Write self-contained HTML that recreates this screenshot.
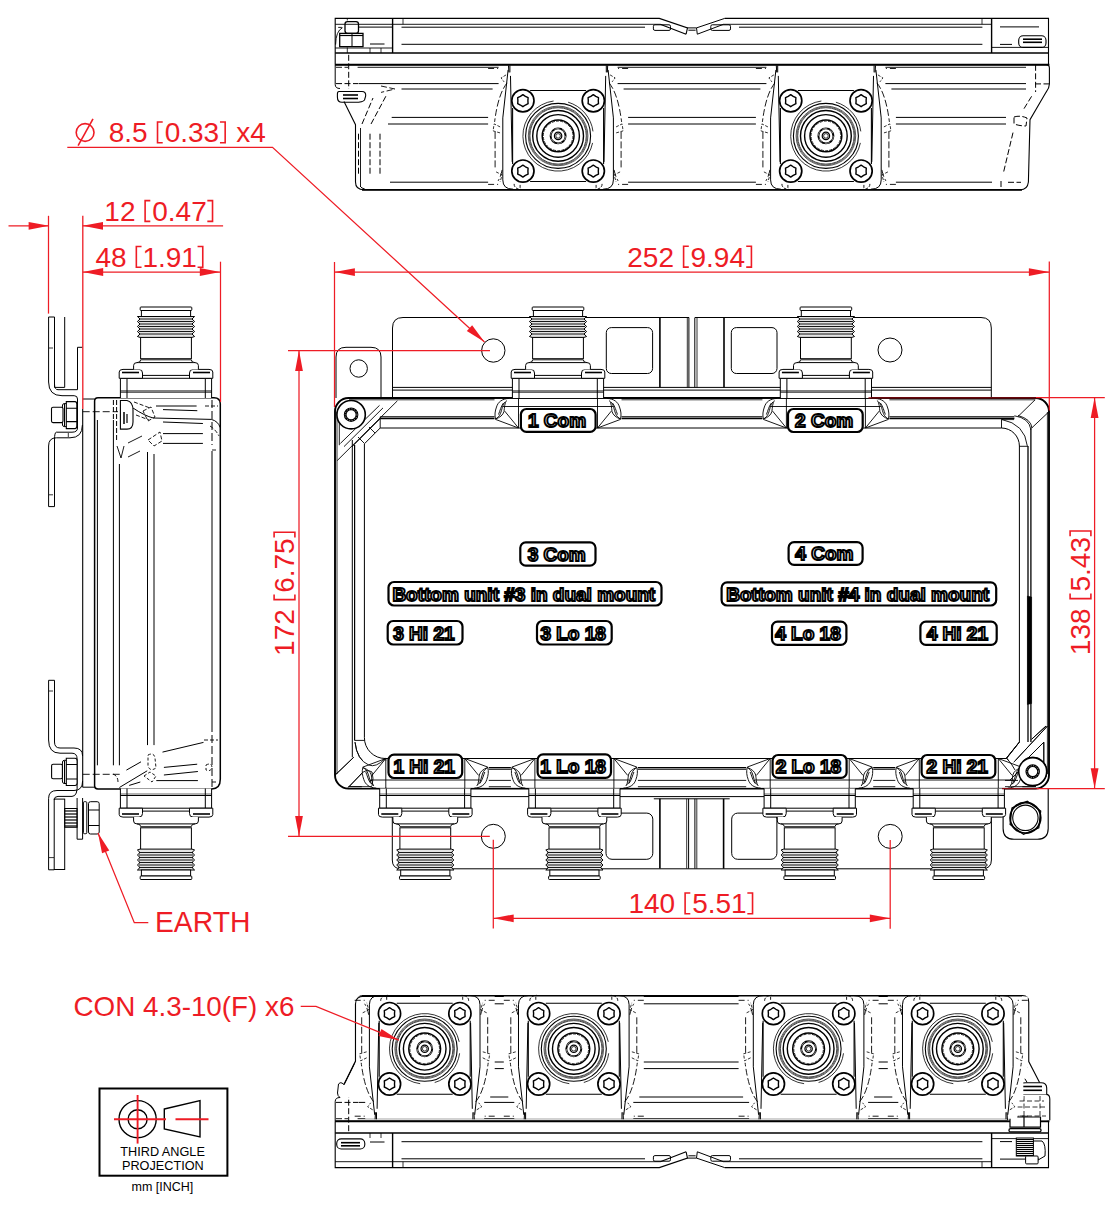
<!DOCTYPE html>
<html><head><meta charset="utf-8"><style>
html,body{margin:0;padding:0;background:#fff;}
svg{display:block;}
text{font-family:"Liberation Sans",sans-serif;}
</style></head><body>
<svg width="1116" height="1216" viewBox="0 0 1116 1216" font-family="Liberation Sans, sans-serif">
<defs><g id="conU" fill="#fff" stroke="#000" stroke-width="1">
<path d="M-45.6 0 V-19.7 H45.6 V0" />
<line x1="-39" y1="-19.7" x2="-39" y2="0"/><line x1="39.3" y1="-19.7" x2="39.3" y2="0"/>
<line x1="-45.6" y1="-7" x2="45.6" y2="-7"/>
<line x1="-45.6" y1="-5.5" x2="45.6" y2="-5.5" stroke-width="0.6"/>
<path d="M-46.8 -19.7 V-26 Q-46.8 -28.6 -43 -28.6 H-27 Q-23.5 -28.6 -23.5 -25 V-19.7 Z"/>
<path d="M46.8 -19.7 V-26 Q46.8 -28.6 43 -28.6 H27 Q23.5 -28.6 23.5 -25 V-19.7 Z"/>
<line x1="-44" y1="-25.5" x2="-27" y2="-25.5" stroke-width="1.6"/><line x1="27" y1="-25.5" x2="44" y2="-25.5" stroke-width="1.6"/>
<line x1="-23.5" y1="-22.6" x2="23.5" y2="-22.6"/>
<path d="M-32.4 -28.6 V-32.5 Q-32.4 -35.4 -29 -35.4 H29 Q32.4 -35.4 32.4 -32.5 V-28.6"/>
<path d="M-29 -35.4 Q-25.4 -35.4 -25.4 -38 M29 -35.4 Q25.4 -35.4 25.4 -38" />
<line x1="-25.4" y1="-38.2" x2="25.4" y2="-38.2" stroke-width="0.9"/>
<rect x="-25.4" y="-61" width="50.8" height="21.7"/>
<path fill="#e4e4e4" d="M-28.6 -81.5 L-26 -79 L-28.6 -76.5 L-26 -74 L-28.6 -71.5 L-26 -69 L-28.6 -66.5 L-26 -64 L-28.6 -61.5 L-26 -60.6 H26 L28.6 -61.5 L26 -64 L28.6 -66.5 L26 -69 L28.6 -71.5 L26 -74 L28.6 -76.5 L26 -79 L28.6 -81.5 Z"/>
<g stroke-width="0.9" fill="none">
<line x1="-27" y1="-79" x2="27" y2="-79"/><line x1="-27" y1="-76.5" x2="27" y2="-76.5"/>
<line x1="-27" y1="-74" x2="27" y2="-74"/><line x1="-27" y1="-71.5" x2="27" y2="-71.5"/>
<line x1="-27" y1="-69" x2="27" y2="-69"/><line x1="-27" y1="-66.5" x2="27" y2="-66.5"/>
<line x1="-27" y1="-64" x2="27" y2="-64"/>
</g>
<rect x="-24.6" y="-87.5" width="49.2" height="6"/>
<rect x="-25.8" y="-91" width="51.6" height="3.5" rx="0.8"/>
</g>
<g id="junc" fill="none" stroke="#000" stroke-width="0.9">
<rect x="-63.5" y="0.95" width="127" height="27" fill="#fff" stroke="none"/>
<line x1="-39.5" y1="-0.5" x2="-39.5" y2="30"/><line x1="39.5" y1="-0.5" x2="39.5" y2="30"/>
<line x1="-55" y1="8.5" x2="55" y2="8.5"/>
<path d="M49 0.4 C56 0.8 60 4 61.5 9 C63 13 63.5 17 62.5 21 M51.5 2.5 C53.5 5 53.5 10 54 13.5 C55 17 58 19.5 62.5 21 M53 4 C55.5 6 56 12 57.5 15.5 C58.5 18 60.5 20 62.5 21 M54.5 5 C57 8 58 13 59.5 16.5 M53.3 13.1 L39.5 30 L62.5 21.4"/>
<path d="M -49 0.4 C -56 0.8 -60 4 -61.5 9 C -63 13 -63.5 17 -62.5 21 M -51.5 2.5 C -53.5 5 -53.5 10 -54 13.5 C -55 17 -58 19.5 -62.5 21 M -53 4 C -55.5 6 -56 12 -57.5 15.5 C -58.5 18 -60.5 20 -62.5 21 M -54.5 5 C -57 8 -58 13 -59.5 16.5 M -53.3 13.1 L -39.5 30 L -62.5 21.4"/>
</g>
<g id="face" fill="none" stroke="#000">
<line x1="-28" y1="-45.4" x2="28" y2="-45.4" stroke-width="1.1"/>
<line x1="-28" y1="45.6" x2="28" y2="45.6" stroke-width="1.1"/>
<line x1="-45.5" y1="-28" x2="-45.5" y2="28" stroke-width="1.1"/>
<line x1="45.5" y1="-28" x2="45.5" y2="28" stroke-width="1.1"/>
<path d="M -4.5 -34.9 A35.2 35.2 0 1 0 34.5 7 M34.9 -4.5 A35.2 35.2 0 0 0 10 -33.7" stroke-width="0.8"/>
<circle r="32.5" stroke-width="1.1"/>
<circle r="29.8" stroke-width="0.9" stroke="#444"/>
<circle r="29" stroke-width="0.9" stroke="#555"/>
<circle r="28.2" stroke-width="0.9" stroke="#333"/>
<circle r="25.4" stroke-width="1.4"/>
<circle r="21.3" stroke-width="1.4"/>
<circle r="15.9" stroke-width="1.5"/>
<circle r="14.8" stroke-width="0.8" stroke-dasharray="3 1.2"/>
<circle r="7.5" stroke-width="1.9"/>
<circle r="7.5" stroke-width="0.5" stroke="#fff" stroke-dasharray="5 2.85"/>
<circle r="3.7" stroke-width="1.2"/>
<circle r="2.3" stroke-width="0.8"/>
<circle cx="-35.2" cy="-35.2" r="11.1" fill="#fff" stroke-width="1.7"/><polygon transform="translate(-35.2 -35.2)" points="5.20,3.00 2.50,4.33 0.00,6.00 -2.50,4.33 -5.20,3.00 -5.00,0.00 -5.20,-3.00 -2.50,-4.33 -0.00,-6.00 2.50,-4.33 5.20,-3.00 5.00,-0.00" stroke-width="1.4" stroke-linejoin="round"/><circle cx="-35.2" cy="35.2" r="11.1" fill="#fff" stroke-width="1.7"/><polygon transform="translate(-35.2 35.2)" points="5.20,3.00 2.50,4.33 0.00,6.00 -2.50,4.33 -5.20,3.00 -5.00,0.00 -5.20,-3.00 -2.50,-4.33 -0.00,-6.00 2.50,-4.33 5.20,-3.00 5.00,-0.00" stroke-width="1.4" stroke-linejoin="round"/><circle cx="35.2" cy="-35.2" r="11.1" fill="#fff" stroke-width="1.7"/><polygon transform="translate(35.2 -35.2)" points="5.20,3.00 2.50,4.33 0.00,6.00 -2.50,4.33 -5.20,3.00 -5.00,0.00 -5.20,-3.00 -2.50,-4.33 -0.00,-6.00 2.50,-4.33 5.20,-3.00 5.00,-0.00" stroke-width="1.4" stroke-linejoin="round"/><circle cx="35.2" cy="35.2" r="11.1" fill="#fff" stroke-width="1.7"/><polygon transform="translate(35.2 35.2)" points="5.20,3.00 2.50,4.33 0.00,6.00 -2.50,4.33 -5.20,3.00 -5.00,0.00 -5.20,-3.00 -2.50,-4.33 -0.00,-6.00 2.50,-4.33 5.20,-3.00 5.00,-0.00" stroke-width="1.4" stroke-linejoin="round"/>
</g></defs>
<rect width="1116" height="1216" fill="#fff"/>
<g fill="none" stroke="#000" stroke-width="1">
<path d="M335.2 64.8 V18.4 H659.3 L687.5 27.9 L686.1 34.2 M660.2 24.2 L686.1 34.2 M724.7 18.4 H1048.5 V64.8"  stroke-width="1.1" fill="none" />
<path d="M724.7 18.4 L696.5 27.9 L697.3 34.2 L723.8 24.2 M687.5 27.9 H696.5 M688.4 30.2 H695.6"   fill="none" />
<line x1="335.2" y1="24.3" x2="660.2" y2="24.3"  stroke-width="0.9" />
<line x1="723.8" y1="24.3" x2="991.6" y2="24.3"  stroke-width="0.9" />
<line x1="401.5" y1="27.2" x2="645" y2="27.2"   />
<line x1="739" y1="27.2" x2="982.4" y2="27.2"   />
<line x1="401.5" y1="44.3" x2="982.4" y2="44.3"   />
<line x1="335.2" y1="48" x2="392.6" y2="48"  stroke-width="0.9" />
<line x1="991.6" y1="47.4" x2="1048.5" y2="47.4"  stroke-width="0.9" />
<line x1="335.2" y1="53" x2="1048.5" y2="53"  stroke-width="1.4" />
<line x1="392.6" y1="18.4" x2="392.6" y2="53"  stroke-width="1.4" />
<line x1="991.6" y1="18.4" x2="991.6" y2="53"  stroke-width="1.4" />
<line x1="403" y1="18.4" x2="403" y2="24.3"  stroke-width="0.8" />
<line x1="982" y1="18.4" x2="982" y2="24.3"  stroke-width="0.8" />
<rect x="653.4" y="24.8" width="17.1" height="5.6" rx="1.5"   fill="none" />
<rect x="710.8" y="24.8" width="19.7" height="5.6" rx="1.5"   fill="none" />
<line x1="370" y1="44" x2="384.5" y2="44"   />
<line x1="370" y1="48" x2="370" y2="53"  stroke-width="0.8" />
<line x1="381" y1="48" x2="381" y2="53"  stroke-width="0.8" />
<line x1="1000" y1="26.9" x2="1039" y2="26.9"   />
<line x1="1000" y1="44.4" x2="1012" y2="44.4"   />
<rect x="345" y="21.6" width="13.5" height="11.7" rx="2.5"  stroke-width="1.3" fill="none" />
<path d="M339.7 33.3 H363 V46.7 H339.7 Z"  stroke-width="1.3" fill="none" />
<line x1="352" y1="33.3" x2="352" y2="46.7"   />
<path d="M342.5 27.7 Q335.8 31 335.6 44.6 M338.2 27.4 H341.9"  stroke-width="0.9" fill="none" />
<line x1="358.9" y1="27.1" x2="392.6" y2="27.1"   />
<line x1="347.3" y1="47.4" x2="347.3" y2="53"  stroke-width="0.8" />
<line x1="347.3" y1="18.4" x2="347.3" y2="20.5"  stroke-width="0.8" />
<line x1="340" y1="35.5" x2="363" y2="35.5"  stroke-width="1.2" />
<rect x="1018.7" y="35.8" width="27.3" height="11.6" rx="4.5"  stroke-width="1.1" fill="none" />
<line x1="1023" y1="39.2" x2="1042" y2="39.2"  stroke-width="1.6" />
<line x1="1023" y1="42.3" x2="1042" y2="42.3"  stroke-width="1.6" />
<path d="M335.2 64.8 H1046 Q1049.4 64.8 1049.4 68 V84 Q1049.4 88 1046 92.3 L1030 119.7 L1028.4 182 Q1027.5 189.8 1020.3 189.8 H364 Q355.5 189.8 355.5 182 V124.7 L344 101.4"  stroke-width="1.1" fill="none" />
<line x1="335.2" y1="64.8" x2="1049.4" y2="64.8"  stroke-width="1.9" />
<line x1="362" y1="189.8" x2="1022" y2="189.8"  stroke-width="1.7" />
<path d="M335.2 64.8 V84.4 Q335.2 88.5 340 88.5"   fill="none" />
<path d="M339 91.5 H362 Q366 91.5 365.7 96 L364.5 100 Q363 102.3 355 102.3 H342 Q337.4 102.3 337.4 97 V94 Q337.4 91.5 339 91.5 Z"  stroke-width="1.1" fill="none" />
<line x1="343" y1="95" x2="358" y2="95"  stroke-width="1.6" />
<line x1="343" y1="98.5" x2="358" y2="98.5"  stroke-width="1.6" />
<line x1="357.6" y1="67.3" x2="1026" y2="67.3"  stroke-width="0.9" />
<line x1="336" y1="67.3" x2="348" y2="67.3"  stroke-width="0.9" stroke-dasharray="6 2.5"/>
<line x1="358.5" y1="83.6" x2="1026" y2="83.6"   />
<line x1="336" y1="83.6" x2="358" y2="83.6"  stroke-width="1" stroke-dasharray="6 2.5"/>
<line x1="401.5" y1="89" x2="1026" y2="89"   />
<line x1="391.7" y1="117.4" x2="1006" y2="117.4"   />
<line x1="388" y1="124" x2="1006" y2="124"   />
<line x1="390" y1="182.2" x2="992" y2="182.2"   />
<path d="M381 86 L395 89 L381 92.4"  stroke-width="0.9" fill="none" stroke-dasharray="6 2.5"/>
<line x1="348.7" y1="54.8" x2="348.7" y2="89"  stroke-width="1" stroke-dasharray="6 2.5"/>
<path d="M358.5 133.7 V174 M370 133.7 V174 M380 133.7 V174 M362 124 L373 98 M371 124 L386 96 M360 186 Q362 189 367 189.5"  stroke-width="1" fill="none" stroke-dasharray="6 2.5"/>
<path d="M360.5 186 V128"  stroke-width="0.9" fill="none" />
<path d="M1035.6 64.8 V92 M1035 83.9 H1049 M1031.6 96.3 L1022.7 110.8 M1013 132.6 L1003.4 172.9 M1008 182.3 H1021 M1001 181 V189 M1014 117 Q1020 115 1027 118 L1026 126 Q1020 126 1014 124 Z"  stroke-width="1" fill="none" stroke-dasharray="6 2.5"/>
</g>
<g transform="translate(558.1 135.9) scale(1 1)" fill="none" stroke="#000" stroke-width="1">
<path d="M-59.5 -70 H59.5 V-50 H65.5 V-30 H70 V52.3 H-70 V-30 H-65.5 V-50 H-59.5 Z" fill="#fff" stroke="none"/>
<path d="M51.0 -53 Q60.0 -42 63.5 -14 M63.0 -4 V32 M56.0 34 Q57.0 40 60.0 45" stroke-dasharray="7 2.5" stroke-width="0.9"/>
<path d="M58.0 -9 L64.0 -12 L65.0 -5 L58.0 -3 M62.0 36 L56.0 39 L58.0 46 M52.0 -61 L57.0 -58 L54.0 -54" stroke-dasharray="3 1.5" stroke-width="0.8"/>
<path d="M70.0 -67.4 H60.0 M70.0 48.5 H60.0" stroke-dasharray="6 3" stroke-width="0.9"/>
<path d="M50.0 -66 L55.3 -18 V44 Q55.3 53.3 45.0 53.3" stroke-width="1"/>
<path d="M47.6 -60 L45.9 26 M48.2 -70.5 V-63.5 M49.6 -70.5 L49.2 -63.5" stroke-width="1"/>
<path d="M44.0 48 Q44.0 53 37.0 53.5 M38.0 49 V53" stroke-width="0.9" stroke-dasharray="3 1.5"/>
<path d="M-51.0 -53 Q-60.0 -42 -63.5 -14 M-63.0 -4 V32 M-56.0 34 Q-57.0 40 -60.0 45" stroke-dasharray="7 2.5" stroke-width="0.9"/>
<path d="M-58.0 -9 L-64.0 -12 L-65.0 -5 L-58.0 -3 M-62.0 36 L-56.0 39 L-58.0 46 M-52.0 -61 L-57.0 -58 L-54.0 -54" stroke-dasharray="3 1.5" stroke-width="0.8"/>
<path d="M-70.0 -67.4 H-60.0 M-70.0 48.5 H-60.0" stroke-dasharray="6 3" stroke-width="0.9"/>
<path d="M-50.0 -66 L-55.3 -18 V44 Q-55.3 53.3 -45.0 53.3" stroke-width="1"/>
<path d="M-47.6 -60 L-45.9 26 M-48.2 -70.5 V-63.5 M-49.6 -70.5 L-49.2 -63.5" stroke-width="1"/>
<path d="M-44.0 48 Q-44.0 53 -37.0 53.5 M-38.0 49 V53" stroke-width="0.9" stroke-dasharray="3 1.5"/>
<use href="#face"/>
</g>
<g transform="translate(825.9 135.9) scale(1 1)" fill="none" stroke="#000" stroke-width="1">
<path d="M-59.5 -70 H59.5 V-50 H65.5 V-30 H70 V52.3 H-70 V-30 H-65.5 V-50 H-59.5 Z" fill="#fff" stroke="none"/>
<path d="M51.0 -53 Q60.0 -42 63.5 -14 M63.0 -4 V32 M56.0 34 Q57.0 40 60.0 45" stroke-dasharray="7 2.5" stroke-width="0.9"/>
<path d="M58.0 -9 L64.0 -12 L65.0 -5 L58.0 -3 M62.0 36 L56.0 39 L58.0 46 M52.0 -61 L57.0 -58 L54.0 -54" stroke-dasharray="3 1.5" stroke-width="0.8"/>
<path d="M70.0 -67.4 H60.0 M70.0 48.5 H60.0" stroke-dasharray="6 3" stroke-width="0.9"/>
<path d="M50.0 -66 L55.3 -18 V44 Q55.3 53.3 45.0 53.3" stroke-width="1"/>
<path d="M47.6 -60 L45.9 26 M48.2 -70.5 V-63.5 M49.6 -70.5 L49.2 -63.5" stroke-width="1"/>
<path d="M44.0 48 Q44.0 53 37.0 53.5 M38.0 49 V53" stroke-width="0.9" stroke-dasharray="3 1.5"/>
<path d="M-51.0 -53 Q-60.0 -42 -63.5 -14 M-63.0 -4 V32 M-56.0 34 Q-57.0 40 -60.0 45" stroke-dasharray="7 2.5" stroke-width="0.9"/>
<path d="M-58.0 -9 L-64.0 -12 L-65.0 -5 L-58.0 -3 M-62.0 36 L-56.0 39 L-58.0 46 M-52.0 -61 L-57.0 -58 L-54.0 -54" stroke-dasharray="3 1.5" stroke-width="0.8"/>
<path d="M-70.0 -67.4 H-60.0 M-70.0 48.5 H-60.0" stroke-dasharray="6 3" stroke-width="0.9"/>
<path d="M-50.0 -66 L-55.3 -18 V44 Q-55.3 53.3 -45.0 53.3" stroke-width="1"/>
<path d="M-47.6 -60 L-45.9 26 M-48.2 -70.5 V-63.5 M-49.6 -70.5 L-49.2 -63.5" stroke-width="1"/>
<path d="M-44.0 48 Q-44.0 53 -37.0 53.5 M-38.0 49 V53" stroke-width="0.9" stroke-dasharray="3 1.5"/>
<use href="#face"/>
</g>
<g transform="translate(0 1186) scale(1 -1)">
<g fill="none" stroke="#000" stroke-width="1">
<path d="M335.2 64.8 V18.4 H659.3 L687.5 27.9 L686.1 34.2 M660.2 24.2 L686.1 34.2 M724.7 18.4 H1048.5 V64.8"  stroke-width="1.1" fill="none" />
<path d="M724.7 18.4 L696.5 27.9 L697.3 34.2 L723.8 24.2 M687.5 27.9 H696.5 M688.4 30.2 H695.6"   fill="none" />
<line x1="335.2" y1="24.3" x2="660.2" y2="24.3"  stroke-width="0.9" />
<line x1="723.8" y1="24.3" x2="991.6" y2="24.3"  stroke-width="0.9" />
<line x1="401.5" y1="27.2" x2="645" y2="27.2"   />
<line x1="739" y1="27.2" x2="982.4" y2="27.2"   />
<line x1="401.5" y1="44.3" x2="982.4" y2="44.3"   />
<line x1="991.6" y1="47.4" x2="1048.5" y2="47.4"  stroke-width="0.9" />
<line x1="335.2" y1="53" x2="1048.5" y2="53"  stroke-width="1.4" />
<line x1="392.6" y1="18.4" x2="392.6" y2="53"  stroke-width="1.4" />
<line x1="991.6" y1="18.4" x2="991.6" y2="53"  stroke-width="1.4" />
<line x1="403" y1="18.4" x2="403" y2="24.3"  stroke-width="0.8" />
<line x1="982" y1="18.4" x2="982" y2="24.3"  stroke-width="0.8" />
<rect x="653.4" y="24.8" width="17.1" height="5.6" rx="1.5"   fill="none" />
<rect x="710.8" y="24.8" width="19.7" height="5.6" rx="1.5"   fill="none" />
<line x1="370" y1="44" x2="384.5" y2="44"   />
<line x1="370" y1="48" x2="370" y2="53"  stroke-width="0.8" />
<line x1="381" y1="48" x2="381" y2="53"  stroke-width="0.8" />
<line x1="1000" y1="26.9" x2="1039" y2="26.9"   />
<line x1="1000" y1="44.4" x2="1012" y2="44.4"   />
<rect x="336.7" y="37" width="28.1" height="10.1" rx="4.5"  stroke-width="1.1" fill="none" />
<line x1="341" y1="40.2" x2="360" y2="40.2"  stroke-width="1.6" />
<line x1="341" y1="43.3" x2="360" y2="43.3"  stroke-width="1.6" />
<path d="M335.2 64.8 H1046 Q1049.4 64.8 1049.4 68 V84 M1039.7 103.3 L1028.75 124.4 V183.8 Q1028.75 190.4 1022.5 190.4 H364 Q355.5 190.4 355.5 182 V124.7 L344 101.4"  stroke-width="1.1" fill="none" />
<line x1="335.2" y1="64.8" x2="1049.4" y2="64.8"  stroke-width="1.9" />
<line x1="362" y1="189.8" x2="1022" y2="189.8"  stroke-width="1.7" />
<path d="M335.2 64.8 V84.4 Q335.2 88.5 340 88.5"   fill="none" />
<path d="M340 88.5 Q337.5 90 337.5 93 L338.5 102 Q340 104 342 103 L344 101.4"  stroke-width="1" fill="none" />
<line x1="357.6" y1="67.3" x2="1026" y2="67.3"  stroke-width="0.9" />
<line x1="336" y1="67.3" x2="348" y2="67.3"  stroke-width="0.9" stroke-dasharray="6 2.5"/>
<line x1="358.5" y1="83.6" x2="1026" y2="83.6"   />
<line x1="336" y1="83.6" x2="358" y2="83.6"  stroke-width="1" stroke-dasharray="6 2.5"/>
<line x1="401.5" y1="89" x2="1026" y2="89"   />
<line x1="391.7" y1="117.4" x2="1006" y2="117.4"   />
<line x1="388" y1="124" x2="1006" y2="124"   />
<line x1="390" y1="182.2" x2="992" y2="182.2"   />
<path d="M381 86 L395 89 L381 92.4"  stroke-width="0.9" fill="none" stroke-dasharray="6 2.5"/>
<line x1="348.7" y1="54.8" x2="348.7" y2="89"  stroke-width="1" stroke-dasharray="6 2.5"/>
<path d="M358.5 133.7 V174 M370 133.7 V174 M380 133.7 V174 M362 124 L373 98 M371 124 L386 96 M360 186 Q362 189 367 189.5"  stroke-width="1" fill="none" stroke-dasharray="6 2.5"/>
<path d="M360.5 186 V128"  stroke-width="0.9" fill="none" />
<path d="M1035.6 64.8 V92 M1035 83.9 H1049 M1031.6 96.3 L1022.7 110.8 M1013 132.6 L1003.4 172.9 M1008 182.3 H1021 M1001 181 V189 M1014 117 Q1020 115 1027 118 L1026 126 Q1020 126 1014 124 Z"  stroke-width="1" fill="none" stroke-dasharray="6 2.5"/>
</g>
</g>
<g fill="none" stroke="#000" stroke-width="1">
<path d="M1007.7 1120.2 V1100 Q1007.7 1094.4 1013 1094.4 H1046 Q1049.8 1094.4 1049.8 1099 V1120.2"  stroke-width="1.1" fill="#fff" />
<path d="M1018.6 1094.4 V1088 Q1018.6 1082.7 1026 1082.7 H1041 Q1046.7 1082.7 1046.7 1088 V1094.4"  stroke-width="1.1" fill="#fff" />
<line x1="1023" y1="1086.5" x2="1042" y2="1086.5"  stroke-width="1.6" />
<line x1="1023" y1="1090.3" x2="1042" y2="1090.3"  stroke-width="1.6" />
<path d="M1012 1101 H1044 M1010 1107 H1047 M1012 1116 H1046 M1024 1096 V1118 M1040 1096 V1118"  stroke-width="0.8" fill="none" stroke-dasharray="5 2.5"/>
<path d="M1010 1117 H1040.5 V1127.2 H1010 Z M1024 1117 V1127.2"  stroke-width="1.2" fill="#fff" />
<rect x="1009" y="1128.6" width="32" height="3.3" rx="1.5"  stroke-width="1.3" fill="#fff" />
<rect x="1016.3" y="1138" width="17.1" height="18" rx="0"  stroke-width="1" fill="#fff" />
<line x1="1016.3" y1="1139.5" x2="1033.4" y2="1139.5"  stroke-width="1.1" />
<line x1="1016.3" y1="1141.5" x2="1033.4" y2="1141.5"  stroke-width="1.1" />
<line x1="1016.3" y1="1143.5" x2="1033.4" y2="1143.5"  stroke-width="1.1" />
<line x1="1016.3" y1="1145.5" x2="1033.4" y2="1145.5"  stroke-width="1.1" />
<line x1="1016.3" y1="1147.5" x2="1033.4" y2="1147.5"  stroke-width="1.1" />
<line x1="1016.3" y1="1149.5" x2="1033.4" y2="1149.5"  stroke-width="1.1" />
<line x1="1016.3" y1="1151.5" x2="1033.4" y2="1151.5"  stroke-width="1.1" />
<line x1="1016.3" y1="1153.5" x2="1033.4" y2="1153.5"  stroke-width="1.1" />
<line x1="1016.3" y1="1155.5" x2="1033.4" y2="1155.5"  stroke-width="1.1" />
<rect x="1025.6" y="1156" width="12.5" height="7.9" rx="1"  stroke-width="1" fill="#fff" />
<path d="M1033.4 1141 H1042 Q1046 1144 1045 1156 L1038.1 1160"  stroke-width="1" fill="none" />
</g>
<g transform="translate(424.7 1048.8) scale(1 -1)" fill="none" stroke="#000" stroke-width="1">
<path d="M-59.5 -70 H59.5 V-50 H65.5 V-30 H70 V52.3 H-70 V-30 H-65.5 V-50 H-59.5 Z" fill="#fff" stroke="none"/>
<path d="M51.0 -53 Q60.0 -42 63.5 -14 M63.0 -4 V32 M56.0 34 Q57.0 40 60.0 45" stroke-dasharray="7 2.5" stroke-width="0.9"/>
<path d="M58.0 -9 L64.0 -12 L65.0 -5 L58.0 -3 M62.0 36 L56.0 39 L58.0 46 M52.0 -61 L57.0 -58 L54.0 -54" stroke-dasharray="3 1.5" stroke-width="0.8"/>
<path d="M70.0 -67.4 H60.0 M70.0 48.5 H60.0" stroke-dasharray="6 3" stroke-width="0.9"/>
<path d="M50.0 -66 L55.3 -18 V44 Q55.3 53.3 45.0 53.3" stroke-width="1"/>
<path d="M47.6 -60 L45.9 26 M48.2 -70.5 V-63.5 M49.6 -70.5 L49.2 -63.5" stroke-width="1"/>
<path d="M44.0 48 Q44.0 53 37.0 53.5 M38.0 49 V53" stroke-width="0.9" stroke-dasharray="3 1.5"/>
<path d="M-51.0 -53 Q-60.0 -42 -63.5 -14 M-63.0 -4 V32 M-56.0 34 Q-57.0 40 -60.0 45" stroke-dasharray="7 2.5" stroke-width="0.9"/>
<path d="M-58.0 -9 L-64.0 -12 L-65.0 -5 L-58.0 -3 M-62.0 36 L-56.0 39 L-58.0 46 M-52.0 -61 L-57.0 -58 L-54.0 -54" stroke-dasharray="3 1.5" stroke-width="0.8"/>
<path d="M-70.0 -67.4 H-60.0 M-70.0 48.5 H-60.0" stroke-dasharray="6 3" stroke-width="0.9"/>
<path d="M-50.0 -66 L-55.3 -18 V44 Q-55.3 53.3 -45.0 53.3" stroke-width="1"/>
<path d="M-47.6 -60 L-45.9 26 M-48.2 -70.5 V-63.5 M-49.6 -70.5 L-49.2 -63.5" stroke-width="1"/>
<path d="M-44.0 48 Q-44.0 53 -37.0 53.5 M-38.0 49 V53" stroke-width="0.9" stroke-dasharray="3 1.5"/>
<use href="#face"/>
</g>
<g transform="translate(573.8 1048.8) scale(1 -1)" fill="none" stroke="#000" stroke-width="1">
<path d="M-59.5 -70 H59.5 V-50 H65.5 V-30 H70 V52.3 H-70 V-30 H-65.5 V-50 H-59.5 Z" fill="#fff" stroke="none"/>
<path d="M51.0 -53 Q60.0 -42 63.5 -14 M63.0 -4 V32 M56.0 34 Q57.0 40 60.0 45" stroke-dasharray="7 2.5" stroke-width="0.9"/>
<path d="M58.0 -9 L64.0 -12 L65.0 -5 L58.0 -3 M62.0 36 L56.0 39 L58.0 46 M52.0 -61 L57.0 -58 L54.0 -54" stroke-dasharray="3 1.5" stroke-width="0.8"/>
<path d="M70.0 -67.4 H60.0 M70.0 48.5 H60.0" stroke-dasharray="6 3" stroke-width="0.9"/>
<path d="M50.0 -66 L55.3 -18 V44 Q55.3 53.3 45.0 53.3" stroke-width="1"/>
<path d="M47.6 -60 L45.9 26 M48.2 -70.5 V-63.5 M49.6 -70.5 L49.2 -63.5" stroke-width="1"/>
<path d="M44.0 48 Q44.0 53 37.0 53.5 M38.0 49 V53" stroke-width="0.9" stroke-dasharray="3 1.5"/>
<path d="M-51.0 -53 Q-60.0 -42 -63.5 -14 M-63.0 -4 V32 M-56.0 34 Q-57.0 40 -60.0 45" stroke-dasharray="7 2.5" stroke-width="0.9"/>
<path d="M-58.0 -9 L-64.0 -12 L-65.0 -5 L-58.0 -3 M-62.0 36 L-56.0 39 L-58.0 46 M-52.0 -61 L-57.0 -58 L-54.0 -54" stroke-dasharray="3 1.5" stroke-width="0.8"/>
<path d="M-70.0 -67.4 H-60.0 M-70.0 48.5 H-60.0" stroke-dasharray="6 3" stroke-width="0.9"/>
<path d="M-50.0 -66 L-55.3 -18 V44 Q-55.3 53.3 -45.0 53.3" stroke-width="1"/>
<path d="M-47.6 -60 L-45.9 26 M-48.2 -70.5 V-63.5 M-49.6 -70.5 L-49.2 -63.5" stroke-width="1"/>
<path d="M-44.0 48 Q-44.0 53 -37.0 53.5 M-38.0 49 V53" stroke-width="0.9" stroke-dasharray="3 1.5"/>
<use href="#face"/>
</g>
<g transform="translate(808.6 1048.8) scale(1 -1)" fill="none" stroke="#000" stroke-width="1">
<path d="M-59.5 -70 H59.5 V-50 H65.5 V-30 H70 V52.3 H-70 V-30 H-65.5 V-50 H-59.5 Z" fill="#fff" stroke="none"/>
<path d="M51.0 -53 Q60.0 -42 63.5 -14 M63.0 -4 V32 M56.0 34 Q57.0 40 60.0 45" stroke-dasharray="7 2.5" stroke-width="0.9"/>
<path d="M58.0 -9 L64.0 -12 L65.0 -5 L58.0 -3 M62.0 36 L56.0 39 L58.0 46 M52.0 -61 L57.0 -58 L54.0 -54" stroke-dasharray="3 1.5" stroke-width="0.8"/>
<path d="M70.0 -67.4 H60.0 M70.0 48.5 H60.0" stroke-dasharray="6 3" stroke-width="0.9"/>
<path d="M50.0 -66 L55.3 -18 V44 Q55.3 53.3 45.0 53.3" stroke-width="1"/>
<path d="M47.6 -60 L45.9 26 M48.2 -70.5 V-63.5 M49.6 -70.5 L49.2 -63.5" stroke-width="1"/>
<path d="M44.0 48 Q44.0 53 37.0 53.5 M38.0 49 V53" stroke-width="0.9" stroke-dasharray="3 1.5"/>
<path d="M-51.0 -53 Q-60.0 -42 -63.5 -14 M-63.0 -4 V32 M-56.0 34 Q-57.0 40 -60.0 45" stroke-dasharray="7 2.5" stroke-width="0.9"/>
<path d="M-58.0 -9 L-64.0 -12 L-65.0 -5 L-58.0 -3 M-62.0 36 L-56.0 39 L-58.0 46 M-52.0 -61 L-57.0 -58 L-54.0 -54" stroke-dasharray="3 1.5" stroke-width="0.8"/>
<path d="M-70.0 -67.4 H-60.0 M-70.0 48.5 H-60.0" stroke-dasharray="6 3" stroke-width="0.9"/>
<path d="M-50.0 -66 L-55.3 -18 V44 Q-55.3 53.3 -45.0 53.3" stroke-width="1"/>
<path d="M-47.6 -60 L-45.9 26 M-48.2 -70.5 V-63.5 M-49.6 -70.5 L-49.2 -63.5" stroke-width="1"/>
<path d="M-44.0 48 Q-44.0 53 -37.0 53.5 M-38.0 49 V53" stroke-width="0.9" stroke-dasharray="3 1.5"/>
<use href="#face"/>
</g>
<g transform="translate(957.8 1048.8) scale(1 -1)" fill="none" stroke="#000" stroke-width="1">
<path d="M-59.5 -70 H59.5 V-50 H65.5 V-30 H70 V52.3 H-70 V-30 H-65.5 V-50 H-59.5 Z" fill="#fff" stroke="none"/>
<path d="M51.0 -53 Q60.0 -42 63.5 -14 M63.0 -4 V32 M56.0 34 Q57.0 40 60.0 45" stroke-dasharray="7 2.5" stroke-width="0.9"/>
<path d="M58.0 -9 L64.0 -12 L65.0 -5 L58.0 -3 M62.0 36 L56.0 39 L58.0 46 M52.0 -61 L57.0 -58 L54.0 -54" stroke-dasharray="3 1.5" stroke-width="0.8"/>
<path d="M70.0 -67.4 H60.0 M70.0 48.5 H60.0" stroke-dasharray="6 3" stroke-width="0.9"/>
<path d="M50.0 -66 L55.3 -18 V44 Q55.3 53.3 45.0 53.3" stroke-width="1"/>
<path d="M47.6 -60 L45.9 26 M48.2 -70.5 V-63.5 M49.6 -70.5 L49.2 -63.5" stroke-width="1"/>
<path d="M44.0 48 Q44.0 53 37.0 53.5 M38.0 49 V53" stroke-width="0.9" stroke-dasharray="3 1.5"/>
<path d="M-51.0 -53 Q-60.0 -42 -63.5 -14 M-63.0 -4 V32 M-56.0 34 Q-57.0 40 -60.0 45" stroke-dasharray="7 2.5" stroke-width="0.9"/>
<path d="M-58.0 -9 L-64.0 -12 L-65.0 -5 L-58.0 -3 M-62.0 36 L-56.0 39 L-58.0 46 M-52.0 -61 L-57.0 -58 L-54.0 -54" stroke-dasharray="3 1.5" stroke-width="0.8"/>
<path d="M-70.0 -67.4 H-60.0 M-70.0 48.5 H-60.0" stroke-dasharray="6 3" stroke-width="0.9"/>
<path d="M-50.0 -66 L-55.3 -18 V44 Q-55.3 53.3 -45.0 53.3" stroke-width="1"/>
<path d="M-47.6 -60 L-45.9 26 M-48.2 -70.5 V-63.5 M-49.6 -70.5 L-49.2 -63.5" stroke-width="1"/>
<path d="M-44.0 48 Q-44.0 53 -37.0 53.5 M-38.0 49 V53" stroke-width="0.9" stroke-dasharray="3 1.5"/>
<use href="#face"/>
</g>
<path d="M364 996.2 Q355.5 996.2 355.5 1004 V1061.3 L344 1084.6" stroke="#000" stroke-width="1.1" fill="none" />
<line x1="362" y1="996.2" x2="420" y2="996.2" stroke="#000" stroke-width="1.7" />
<g fill="none" stroke="#000" stroke-width="1">
<path d="M392.5 398 V328 Q392.5 317.5 403 317.5 H689 M695 317.5 H981 Q991.3 317.5 991.3 328 V398"   fill="none" />
<line x1="392.5" y1="387.4" x2="991.3" y2="387.4"   />
<line x1="392.5" y1="390.1" x2="991.3" y2="390.1"   />
<rect x="606.3" y="327.6" width="46.3" height="45.9" rx="5"   fill="none" />
<rect x="731.3" y="327.6" width="45.7" height="45.9" rx="5"   fill="none" />
<line x1="659.9" y1="317.5" x2="659.9" y2="387.4"  stroke-width="1.6" />
<line x1="687.3" y1="317.5" x2="687.3" y2="387.4"  stroke-width="0.8" />
<line x1="688.9" y1="317.5" x2="688.9" y2="387.4"  stroke-width="1" />
<line x1="694.8" y1="317.5" x2="694.8" y2="387.4"  stroke-width="1" />
<line x1="697" y1="317.5" x2="697" y2="387.4"  stroke-width="0.8" />
<line x1="724" y1="317.5" x2="724" y2="387.4"  stroke-width="1.6" />
<circle cx="493.3" cy="350.5" r="11.7"   fill="none" />
<circle cx="890" cy="350" r="12"   fill="none" />
<path d="M336 398 V357 Q336 347.3 346 347.3 H371 Q381 347.3 381 357 V398"   fill="#fff" />
<circle cx="358.7" cy="368.5" r="8.7"   fill="none" />
<path d="M392.3 798 V860 Q392.3 868.8 401 868.8 H982 Q991.4 868.8 991.4 860 V798"   fill="none" />
<line x1="392.3" y1="796.6" x2="991.4" y2="796.6"   />
<line x1="653.8" y1="798.8" x2="729.7" y2="798.8"   />
<rect x="606" y="813.1" width="46.8" height="46.2" rx="6"   fill="none" />
<rect x="731.7" y="813.1" width="45.2" height="46.2" rx="6"   fill="none" />
<line x1="659.9" y1="798.8" x2="659.9" y2="868.6"  stroke-width="1.6" />
<line x1="686.7" y1="798.8" x2="686.7" y2="868.6"  stroke-width="0.8" />
<line x1="688.6" y1="798.8" x2="688.6" y2="868.6"  stroke-width="1" />
<line x1="694.9" y1="798.8" x2="694.9" y2="868.6"  stroke-width="1" />
<line x1="696.8" y1="798.8" x2="696.8" y2="868.6"  stroke-width="0.8" />
<line x1="723.6" y1="798.8" x2="723.6" y2="868.6"  stroke-width="1.6" />
<circle cx="493.3" cy="836.3" r="12"   fill="none" />
<circle cx="890.2" cy="836.4" r="12"   fill="none" />
<path d="M1003.1 789 V828.5 Q1003.1 839.3 1014 839.3 H1037.4 Q1048.2 839.3 1048.2 828.5 V789"  stroke-width="1.1" fill="#fff" />
<polygon points="1027.29,801.21 1040.71,811.14 1038.82,827.73 1023.51,834.39 1010.09,824.46 1011.98,807.87" fill="none" stroke="#000" stroke-width="1.2"/>
<circle cx="1025.4" cy="817.8" r="15.3"  stroke-width="1.8" fill="none" />
<circle cx="1025.4" cy="817.8" r="12.7"  stroke-width="1.1" fill="none" />
<rect x="335" y="398" width="714" height="390.6" rx="13.5"  stroke-width="1.9" fill="#fff" />
<line x1="349" y1="399.8" x2="1035.2" y2="399.8"  stroke-width="0.8" />
<line x1="348.6" y1="786.6" x2="1036" y2="786.6"  stroke-width="0.8" />
<line x1="337" y1="412" x2="337" y2="774"  stroke-width="0.8" />
<line x1="1047.4" y1="412" x2="1047.4" y2="774"  stroke-width="0.8" />
<line x1="380.2" y1="416.9" x2="1014.4" y2="416.9"  stroke-width="1.1" />
<line x1="380.2" y1="418.6" x2="1014.4" y2="418.6"  stroke-width="1.1" />
<line x1="1001.5" y1="419.6" x2="1014" y2="419.6"  stroke-width="0.8" />
<line x1="370" y1="767.6" x2="1004" y2="767.6"  stroke-width="1.1" />
<line x1="370" y1="769.3" x2="1004" y2="769.3"  stroke-width="1.1" />
<line x1="369.8" y1="780.4" x2="1018" y2="780.4"  stroke-width="0.9" />
<line x1="352.3" y1="440" x2="352.3" y2="757.3"  stroke-width="1" />
<line x1="354.6" y1="445" x2="354.6" y2="740.4"  stroke-width="1.2" />
<line x1="1028" y1="446" x2="1028" y2="742"  stroke-width="1.3" />
<line x1="1030.9" y1="429" x2="1030.9" y2="742"  stroke-width="1.3" />
<path d="M1027.4 596 L1031.6 597 V703.5 L1027.4 704.5 Z"  stroke-width="0.5" fill="#000" />
<path d="M380.2 428 H1001.5 A18 18 0 0 1 1019.4 446 V742 L1006.5 758.5 H385.2 A20.8 20.8 0 0 1 364.4 737.7 V443.8 Z"  stroke-width="1" fill="none" />
<path d="M397.4 400.8 L337.2 460.6 M379.5 405.4 L340.4 443.4 M383 407.9 L344 446.6 M380.2 418.7 L352.2 446.6 M380.2 416.9 V428 M339.3 421.5 V445.2 M358 437 L364 443 M369 427 L375 433"  stroke-width="0.9" fill="none" />
<circle cx="351.1" cy="414.7" r="14.2"  stroke-width="1.6" fill="#fff" />
<circle cx="351.1" cy="414.7" r="5.9"  stroke-width="2.8" fill="none" />
<circle cx="351.1" cy="414.7" r="5.9" stroke="#fff" stroke-width="0.6" fill="none" stroke-dasharray="1 1.5"/>
<path d="M335 775.2 L353.7 757.3 M348.3 787.4 L361.5 773.7 M354.7 740.4 H364.4 M355 742.2 Q357 760 368.7 765 Q376 768 385.2 758.5 M385.9 759.4 V788 M360 775 Q366 768 372 772 Q374 778 372 786"  stroke-width="0.9" fill="none" />
<path d="M1035.2 399.7 L1018 416.5 M1049.2 411.5 L1030.2 429.4 M1014.4 415.8 Q1029 418 1030.9 429.4 M1018 415.5 Q1031 419 1032 428 M1001.5 419.4 Q1025 424 1027.3 445.9 M1001.5 419.4 V428 M1019.4 446.3 H1028"  stroke-width="0.9" fill="none" />
<path d="M1047.4 726.1 L1013.7 762.3 M1043.8 742.2 L1027.3 758.7 M1046 726 L1031.6 739.3 M1043.8 742.2 V763.7 M1019.3 742.2 L1006.5 758 M1006.5 758 Q1012 764 1015 770 M1010 780 L1018 772"  stroke-width="0.9" fill="none" />
<circle cx="1032.7" cy="771.6" r="14"  stroke-width="1.6" fill="#fff" />
<circle cx="1032.7" cy="771.6" r="5.9"  stroke-width="2.8" fill="none" />
<circle cx="1032.7" cy="771.6" r="5.9" stroke="#fff" stroke-width="0.6" fill="none" stroke-dasharray="1 1.5"/>
</g>
<use href="#junc" transform="translate(558.0 398)"/>
<use href="#conU" transform="translate(558.0 398)"/>
<use href="#junc" transform="translate(825.9 398)"/>
<use href="#conU" transform="translate(825.9 398)"/>
<use href="#junc" transform="translate(425.3 788.5) scale(1 -1)"/>
<use href="#conU" transform="translate(425.3 788.5) scale(1 -1)"/>
<use href="#junc" transform="translate(574.4 788.5) scale(1 -1)"/>
<use href="#conU" transform="translate(574.4 788.5) scale(1 -1)"/>
<use href="#junc" transform="translate(809.7 788.5) scale(1 -1)"/>
<use href="#conU" transform="translate(809.7 788.5) scale(1 -1)"/>
<use href="#junc" transform="translate(958.8 788.5) scale(1 -1)"/>
<use href="#conU" transform="translate(958.8 788.5) scale(1 -1)"/>
<g fill="none" stroke="#000" stroke-width="1">
<path d="M335 775.2 L353.7 757.3 M348.3 787.4 L361.5 773.7 M355 742.2 Q357 760 368.7 765 Q376 768 385.2 758.5 M360 775 Q366 768 372 772 Q374 778 372 786"  stroke-width="0.9" fill="none" />
<line x1="369.8" y1="780.4" x2="372" y2="780.4"  stroke-width="0.9" />
<line x1="348.6" y1="786.6" x2="372" y2="786.6"  stroke-width="0.8" />
<path d="M1047.4 726.1 L1013.7 762.3 M1043.8 742.2 L1027.3 758.7 M1046 726 L1031.6 739.3 M1043.8 742.2 V763.7 M1019.3 742.2 L1006.5 758 M1006.5 758 Q1012 764 1015 770 M1010 780 L1018 772"  stroke-width="0.9" fill="none" />
<line x1="1005" y1="780.4" x2="1018" y2="780.4"  stroke-width="0.9" />
<line x1="1005" y1="786.6" x2="1036" y2="786.6"  stroke-width="0.8" />
<circle cx="1032.7" cy="771.6" r="14"  stroke-width="1.6" fill="#fff" />
<circle cx="1032.7" cy="771.6" r="5.9"  stroke-width="2.8" fill="none" />
<circle cx="1032.7" cy="771.6" r="5.9" stroke="#fff" stroke-width="0.6" fill="none" stroke-dasharray="1 1.5"/>
</g>
<rect x="520.9" y="409" width="74.70000000000005" height="22.899999999999977" rx="5.5" fill="#fff" stroke="#000" stroke-width="2.2"/>
<text x="557.05" y="427.29999999999995" font-size="19" font-weight="bold" text-anchor="middle" fill="#fff" stroke="#000" stroke-width="1.9">1 Com</text>
<rect x="788" y="409" width="74.70000000000005" height="23" rx="5.5" fill="#fff" stroke="#000" stroke-width="2.2"/>
<text x="824.15" y="427.4" font-size="19" font-weight="bold" text-anchor="middle" fill="#fff" stroke="#000" stroke-width="1.9">2 Com</text>
<rect x="520.3" y="542.3" width="75.20000000000005" height="23.40000000000009" rx="5.5" fill="#fff" stroke="#000" stroke-width="2.2"/>
<text x="556.6999999999999" y="561.1" font-size="19" font-weight="bold" text-anchor="middle" fill="#fff" stroke="#000" stroke-width="1.9">3 Com</text>
<rect x="788.6" y="542.2" width="74.0" height="22.59999999999991" rx="5.5" fill="#fff" stroke="#000" stroke-width="2.2"/>
<text x="824.4" y="560.1999999999999" font-size="19" font-weight="bold" text-anchor="middle" fill="#fff" stroke="#000" stroke-width="1.9">4 Com</text>
<rect x="388.5" y="582" width="273.0" height="23.5" rx="5.5" fill="#fff" stroke="#000" stroke-width="2.2"/>
<text x="523.8" y="600.9" font-size="19" font-weight="bold" text-anchor="middle" fill="#fff" stroke="#000" stroke-width="1.9">Bottom unit #3 in dual mount</text>
<rect x="721.6" y="582.4" width="274.6" height="23.100000000000023" rx="5.5" fill="#fff" stroke="#000" stroke-width="2.2"/>
<text x="857.7" y="600.9" font-size="19" font-weight="bold" text-anchor="middle" fill="#fff" stroke="#000" stroke-width="1.9">Bottom unit #4 in dual mount</text>
<rect x="387.7" y="621" width="74.80000000000001" height="23.5" rx="5.5" fill="#fff" stroke="#000" stroke-width="2.2"/>
<text x="423.90000000000003" y="639.9" font-size="19" font-weight="bold" text-anchor="middle" fill="#fff" stroke="#000" stroke-width="1.9">3 Hi 21</text>
<rect x="537" y="621" width="74.70000000000005" height="23.5" rx="5.5" fill="#fff" stroke="#000" stroke-width="2.2"/>
<text x="573.15" y="639.9" font-size="19" font-weight="bold" text-anchor="middle" fill="#fff" stroke="#000" stroke-width="1.9">3 Lo 18</text>
<rect x="772" y="621.7" width="74.39999999999998" height="23.09999999999991" rx="5.5" fill="#fff" stroke="#000" stroke-width="2.2"/>
<text x="808.0" y="640.1999999999999" font-size="19" font-weight="bold" text-anchor="middle" fill="#fff" stroke="#000" stroke-width="1.9">4 Lo 18</text>
<rect x="920.4" y="621.7" width="76.30000000000007" height="23.09999999999991" rx="5.5" fill="#fff" stroke="#000" stroke-width="2.2"/>
<text x="957.3499999999999" y="640.1999999999999" font-size="19" font-weight="bold" text-anchor="middle" fill="#fff" stroke="#000" stroke-width="1.9">4 Hi 21</text>
<rect x="388.5" y="754.6" width="73.69999999999999" height="23.399999999999977" rx="5.5" fill="#fff" stroke="#000" stroke-width="2.2"/>
<text x="424.15000000000003" y="773.4" font-size="19" font-weight="bold" text-anchor="middle" fill="#fff" stroke="#000" stroke-width="1.9">1 Hi 21</text>
<rect x="537.6" y="754.4" width="73.39999999999998" height="23.399999999999977" rx="5.5" fill="#fff" stroke="#000" stroke-width="2.2"/>
<text x="573.0999999999999" y="773.1999999999999" font-size="19" font-weight="bold" text-anchor="middle" fill="#fff" stroke="#000" stroke-width="1.9">1 Lo 18</text>
<rect x="772.6" y="755" width="74.0" height="22.899999999999977" rx="5.5" fill="#fff" stroke="#000" stroke-width="2.2"/>
<text x="808.4" y="773.3" font-size="19" font-weight="bold" text-anchor="middle" fill="#fff" stroke="#000" stroke-width="1.9">2 Lo 18</text>
<rect x="921.6" y="755" width="73.69999999999993" height="22.899999999999977" rx="5.5" fill="#fff" stroke="#000" stroke-width="2.2"/>
<text x="957.25" y="773.3" font-size="19" font-weight="bold" text-anchor="middle" fill="#fff" stroke="#000" stroke-width="1.9">2 Hi 21</text>
<g fill="none" stroke="#000" stroke-width="1">
<path d="M48.6 317 V382 Q48.6 395.7 62 395.7 H74.2 Q77.5 395.7 77.5 399 V428"   fill="none" />
<path d="M54.5 317 V387.4 H64.7 V317 M48.6 317 H54.5"   fill="none" />
<path d="M54.5 384 Q54.5 389.7 58 389.7 H77.5 M77.5 347.3 V389.7 M77.5 347.3 H82.4"   fill="none" />
<path d="M77.5 427.9 Q77.5 432.2 72 432.2 H56.4 Q54.5 432.2 54.5 440 V506.6 H48.6 V446 Q48.6 437.8 56.4 437.8 H70 Q82.4 437.8 82.4 425"   fill="none" />
<line x1="49" y1="348" x2="53" y2="348"  stroke-width="0.8" />
<line x1="49" y1="494.8" x2="53" y2="494.8"  stroke-width="0.8" />
<line x1="68.3" y1="433" x2="68.3" y2="437"  stroke-width="0.8" />
<path d="M66.3 401.6 H75 Q76.8 401.6 76.8 404 V426 Q76.8 428.6 75 428.6 H66.3 Z M66.3 408.2 H76.8 M66.3 421.6 H76.8"  stroke-width="1.1" fill="#fff" />
<path d="M66.3 403.6 H64 Q62.4 403.6 62.4 406 V424 Q62.4 426.6 64 426.6 H66.3 M64.5 404 V426"  stroke-width="1" fill="none" />
<rect x="51.5" y="407.2" width="11.5" height="15.4" rx="1.5"  stroke-width="1.1" fill="#fff" />
<path d="M48.6 680.3 V740 Q48.6 753.2 60 753.2 H72 Q77.1 753.2 77.1 759 V783"   fill="none" />
<path d="M54.5 680.3 V742 Q54.5 748 60 748 H74 Q82.6 748 82.6 756 M48.6 680.3 H54.5"   fill="none" />
<path d="M82.6 781 Q82.6 790.5 74 790.5 H57 Q48.6 790.5 48.6 798.4 V869.8 H54.2"   fill="none" />
<path d="M77.1 783 Q78 796.4 72 796.4 H58 Q54.2 796.4 54.2 800"   fill="none" />
<rect x="54.2" y="799.1" width="10.5" height="70.4" rx="0"   fill="none" />
<line x1="49" y1="691" x2="53" y2="691"  stroke-width="0.8" />
<line x1="49" y1="857.6" x2="54" y2="857.6"  stroke-width="0.8" />
<path d="M66.3 758.3 H75 Q77.1 758.3 77.1 761 V783 Q77.1 785.5 75 785.5 H66.3 Z M66.3 764.5 H77.1 M66.3 779 H77.1"  stroke-width="1.1" fill="#fff" />
<path d="M66.3 760.3 H64 Q62.4 760.3 62.4 763 V781 Q62.4 783.5 64 783.5 H66.3 M64.5 761 V783"  stroke-width="1" fill="none" />
<rect x="51.6" y="764.3" width="10.8" height="14.4" rx="1.5"  stroke-width="1.1" fill="#fff" />
<path d="M77.1 798 V839.2 H82.6 V798"   fill="none" />
<rect x="64.7" y="808.5" width="12.4" height="18.8" rx="0"   fill="none" />
<line x1="64.7" y1="811" x2="77.1" y2="811"  stroke-width="1.2" />
<line x1="64.7" y1="814" x2="77.1" y2="814"  stroke-width="1.2" />
<line x1="64.7" y1="817" x2="77.1" y2="817"  stroke-width="1.2" />
<line x1="64.7" y1="820" x2="77.1" y2="820"  stroke-width="1.2" />
<line x1="64.7" y1="823" x2="77.1" y2="823"  stroke-width="1.2" />
<line x1="64.7" y1="826" x2="77.1" y2="826"  stroke-width="1.2" />
<rect x="83.4" y="801.7" width="3.4" height="32" rx="1"   fill="none" />
<rect x="88.5" y="801.7" width="10.7" height="32.3" rx="2"   fill="none" />
<line x1="88.5" y1="810" x2="99.2" y2="810"   />
<line x1="88.5" y1="825.5" x2="99.2" y2="825.5"   />
<line x1="82.7" y1="409" x2="82.7" y2="787.2"  stroke-width="1.1" />
<line x1="82.7" y1="399" x2="94.6" y2="399"   />
<line x1="82.7" y1="787.2" x2="94.6" y2="787.2"   />
<line x1="82.7" y1="411.7" x2="118" y2="411.7"  stroke-width="0.9" stroke-dasharray="7 3"/>
<line x1="82.7" y1="774.3" x2="120" y2="774.3"  stroke-width="0.9" stroke-dasharray="7 3"/>
<path d="M94.6 786 V401 Q94.6 397.7 98 397.7 H214 Q220.3 397.7 220.3 404 V779 Q220.3 788.9 211.8 788.9 H97.9 Q94.6 788.9 94.6 786"  stroke-width="1.5" fill="none" />
<line x1="97.4" y1="420" x2="97.4" y2="765.3"   />
<line x1="113.4" y1="420" x2="113.4" y2="765.3"   />
<line x1="119.4" y1="464" x2="119.4" y2="765.3"   />
<line x1="113.4" y1="400" x2="113.4" y2="420"  stroke-width="1" stroke-dasharray="5 2"/>
<line x1="116.6" y1="400" x2="116.6" y2="440"  stroke-width="1" stroke-dasharray="5 2"/>
<line x1="147.5" y1="452" x2="147.5" y2="745.1"   />
<line x1="154" y1="454" x2="154" y2="745.1"   />
<line x1="212" y1="451" x2="212" y2="732"   />
<line x1="212" y1="400" x2="212" y2="445"  stroke-width="1" stroke-dasharray="8 3"/>
<line x1="212" y1="735" x2="212" y2="787"  stroke-width="1" stroke-dasharray="8 3"/>
<path d="M120.4 400.5 H127 Q133 402 133 410 V422 Q133 429.1 127 429.1 H120.4 Z"  stroke-width="1.1" fill="#fff" />
<line x1="124" y1="412" x2="124" y2="424"  stroke-width="1.5" />
<line x1="127" y1="414" x2="127" y2="423"  stroke-width="1.2" />
<path d="M133 408 Q145 416 153.3 418 L211.3 419.4 Q218 421 220.3 427.7"   fill="none" />
<line x1="156" y1="406" x2="196.6" y2="406"   />
<line x1="163" y1="409.6" x2="197.3" y2="410.7"   />
<line x1="163" y1="422" x2="202.9" y2="423.5"   />
<line x1="163" y1="433.6" x2="202.9" y2="433.6"   />
<line x1="163" y1="443.4" x2="202.9" y2="443.4"   />
<path d="M134 402 L150 408 M136 415 L149 420 M148 440 L160 432 L162 441 L154 446 Z M143 411 L151 407 L155 417 L148 421 Z"  stroke-width="0.9" fill="none" stroke-dasharray="4 2"/>
<path d="M128 443 L142 436 M128 457 L140 451 M117 446 L121 458 L124 446"  stroke-width="0.9" fill="none" />
<path d="M205 406 H218 M210 426 Q216 430 219 436 M212 450 H218"  stroke-width="0.9" fill="none" stroke-dasharray="4 2"/>
<path d="M119.4 787.5 L147.2 770.8"   fill="none" />
<line x1="162.5" y1="752.1" x2="203.5" y2="742.4"   />
<line x1="163.9" y1="767.4" x2="197.2" y2="764.2"   />
<line x1="163.9" y1="775" x2="197.9" y2="771.5"   />
<line x1="156.3" y1="780.6" x2="197.9" y2="780.6"   />
<line x1="126.4" y1="770.1" x2="141" y2="761.8"   />
<line x1="129.2" y1="785.4" x2="140.3" y2="782"   />
<path d="M148 755 Q154 752 155 758 L156 768 Q150 772 148 766 Z M144 776 L150 772 L156 776 L152 782 Z M206 765 Q212 762 212 768 Q210 772 206 770 Z"  stroke-width="0.9" fill="none" stroke-dasharray="3 2"/>
<path d="M204 740 H218 M113 774 Q118 776 118 782 M212 782 H218"  stroke-width="0.9" fill="none" stroke-dasharray="4 2"/>
</g>
<use href="#conU" transform="translate(166 398) scale(1 1)"/>
<use href="#conU" transform="translate(166 788.5) scale(1 -1)"/>
<g stroke="#ee1c25" stroke-width="1.25" fill="none">
<path d="M67.3 147.3 H272.5 L484.5 342"   fill="none" />
<line x1="8.5" y1="225.8" x2="49" y2="225.8"   />
<line x1="82.6" y1="225.8" x2="223.1" y2="225.8"   />
<line x1="48.5" y1="215.8" x2="48.5" y2="313.6"   />
<line x1="82.8" y1="215.8" x2="82.8" y2="409"  stroke-width="1.3" />
<line x1="82.8" y1="272" x2="220.2" y2="272"   />
<line x1="220.5" y1="261.7" x2="220.5" y2="402"   />
<line x1="334.5" y1="272.1" x2="1049.3" y2="272.1"   />
<line x1="334.5" y1="262" x2="334.5" y2="407"   />
<line x1="1049.3" y1="261.6" x2="1049.3" y2="410.5"   />
<line x1="288" y1="350.5" x2="490" y2="350.5"   />
<line x1="288" y1="836.3" x2="489.8" y2="836.3"   />
<line x1="299" y1="350.5" x2="299" y2="836.3"   />
<line x1="868.5" y1="397.8" x2="1036" y2="397.8" stroke="#8a0a10" stroke-width="1.3" />
<line x1="1036" y1="397.6" x2="1104.8" y2="397.6"   />
<line x1="1002" y1="788.7" x2="1036.6" y2="788.7" stroke="#8a0a10" stroke-width="1.3" />
<line x1="1036.6" y1="788.6" x2="1104.8" y2="788.6"   />
<line x1="1094.6" y1="397.6" x2="1094.6" y2="788.6"   />
<line x1="493.3" y1="839.8" x2="493.3" y2="928.5"   />
<line x1="890.2" y1="840" x2="890.2" y2="928.7"   />
<line x1="493.3" y1="918.3" x2="890.2" y2="918.3"   />
<path d="M148.3 922.7 H134.3 L98 833"   fill="none" />
<path d="M300.7 1006.4 H316 L398.9 1040.2"   fill="none" />
</g>
<path d="M484.50 342.00 L466.84 331.06 L472.12 325.32 Z" fill="#ee1c25" stroke="none"/>
<path d="M49.00 225.80 L28.60 229.70 L28.60 221.90 Z" fill="#ee1c25" stroke="none"/>
<path d="M82.60 225.80 L103.00 221.90 L103.00 229.70 Z" fill="#ee1c25" stroke="none"/>
<path d="M82.80 272.00 L103.20 268.10 L103.20 275.90 Z" fill="#ee1c25" stroke="none"/>
<path d="M220.20 272.00 L199.80 275.90 L199.80 268.10 Z" fill="#ee1c25" stroke="none"/>
<path d="M334.50 272.10 L354.90 268.20 L354.90 276.00 Z" fill="#ee1c25" stroke="none"/>
<path d="M1049.30 272.10 L1028.90 276.00 L1028.90 268.20 Z" fill="#ee1c25" stroke="none"/>
<path d="M299.00 350.50 L302.90 370.90 L295.10 370.90 Z" fill="#ee1c25" stroke="none"/>
<path d="M299.00 836.30 L295.10 815.90 L302.90 815.90 Z" fill="#ee1c25" stroke="none"/>
<path d="M1094.60 397.60 L1098.50 418.00 L1090.70 418.00 Z" fill="#ee1c25" stroke="none"/>
<path d="M1094.60 788.60 L1090.70 768.20 L1098.50 768.20 Z" fill="#ee1c25" stroke="none"/>
<path d="M493.30 918.30 L513.70 914.40 L513.70 922.20 Z" fill="#ee1c25" stroke="none"/>
<path d="M890.20 918.30 L869.80 922.20 L869.80 914.40 Z" fill="#ee1c25" stroke="none"/>
<path d="M98.00 833.00 L109.27 850.45 L102.04 853.37 Z" fill="#ee1c25" stroke="none"/>
<path d="M398.90 1040.20 L378.54 1036.11 L381.48 1028.89 Z" fill="#ee1c25" stroke="none"/>
<g fill="none" stroke="#ee1c25" stroke-width="1.6"><circle cx="85.1" cy="132.5" r="8.9"/><line x1="78.1" y1="145.6" x2="93" y2="118.8"/></g>
<text x="108.72" y="142.2" font-size="28" fill="#ee1c25">8.5</text>
<path d="M162.72 122.00 H157.52 V142.80 H162.72" fill="none" stroke="#ee1c25" stroke-width="1.6"/>
<text x="164.66" y="142.2" font-size="28" fill="#ee1c25">0.33</text>
<path d="M219.97 122.00 H225.17 V142.80 H219.97" fill="none" stroke="#ee1c25" stroke-width="1.6"/>
<text x="236.29" y="142.2" font-size="28" fill="#ee1c25">x4</text>
<text x="104.37" y="220.8" font-size="28" fill="#ee1c25">12</text>
<path d="M150.31 200.60 H145.11 V221.40 H150.31" fill="none" stroke="#ee1c25" stroke-width="1.6"/>
<text x="152.24" y="220.8" font-size="28" fill="#ee1c25">0.47</text>
<path d="M207.33 200.60 H212.53 V221.40 H207.33" fill="none" stroke="#ee1c25" stroke-width="1.6"/>
<text x="95.38" y="266.7" font-size="28" fill="#ee1c25">48</text>
<path d="M141.54 246.50 H136.34 V267.30 H141.54" fill="none" stroke="#ee1c25" stroke-width="1.6"/>
<text x="142.42" y="266.7" font-size="28" fill="#ee1c25">1.91</text>
<path d="M197.56 246.50 H202.76 V267.30 H197.56" fill="none" stroke="#ee1c25" stroke-width="1.6"/>
<text x="627.30" y="266.5" font-size="28" fill="#ee1c25">252</text>
<path d="M688.80 246.30 H683.60 V267.10 H688.80" fill="none" stroke="#ee1c25" stroke-width="1.6"/>
<text x="690.52" y="266.5" font-size="28" fill="#ee1c25">9.94</text>
<path d="M746.22 246.30 H751.42 V267.10 H746.22" fill="none" stroke="#ee1c25" stroke-width="1.6"/>
<text x="628.47" y="913.2" font-size="28" fill="#ee1c25">140</text>
<path d="M690.31 893.00 H685.11 V913.80 H690.31" fill="none" stroke="#ee1c25" stroke-width="1.6"/>
<text x="692.19" y="913.2" font-size="28" fill="#ee1c25">5.51</text>
<path d="M747.34 893.00 H752.54 V913.80 H747.34" fill="none" stroke="#ee1c25" stroke-width="1.6"/>
<text x="155" y="932" font-size="29.5" fill="#ee1c25" text-anchor="start" textLength="95.4" lengthAdjust="spacingAndGlyphs" >EARTH</text>
<text x="73.5" y="1015.8" font-size="28" fill="#ee1c25" text-anchor="start" textLength="220.9" lengthAdjust="spacingAndGlyphs" >CON 4.3-10(F) x6</text>
<g transform="translate(294.3 653.8) rotate(-90)">
<text x="-2.13" y="0" font-size="28" fill="#ee1c25">172</text>
<path d="M59.38 -20.20 H54.18 V0.60 H59.38" fill="none" stroke="#ee1c25" stroke-width="1.6"/>
<text x="60.98" y="0" font-size="28" fill="#ee1c25">6.75</text>
<path d="M116.34 -20.20 H121.54 V0.60 H116.34" fill="none" stroke="#ee1c25" stroke-width="1.6"/>
</g>
<g transform="translate(1090.3 653) rotate(-90)">
<text x="-2.13" y="0" font-size="28" fill="#ee1c25">138</text>
<path d="M59.60 -20.20 H54.40 V0.60 H59.60" fill="none" stroke="#ee1c25" stroke-width="1.6"/>
<text x="61.48" y="0" font-size="28" fill="#ee1c25">5.43</text>
<path d="M116.79 -20.20 H121.99 V0.60 H116.79" fill="none" stroke="#ee1c25" stroke-width="1.6"/>
</g>
<g fill="none" stroke="#000">
<rect x="99.5" y="1088.5" width="127.9" height="87.2" rx="0"  stroke-width="2" fill="none" />
<circle cx="137.6" cy="1119.2" r="18.6"  stroke-width="1.4" fill="none" />
<circle cx="137.6" cy="1119.2" r="9.5"  stroke-width="1.4" fill="none" />
<path d="M164.3 1109 L200 1100.6 V1137 L164.3 1129 Z"  stroke-width="1.4" fill="none" />
</g>
<g stroke="#ee1c25" stroke-width="1.9"><line x1="114" y1="1119.2" x2="166" y2="1119.2"/><line x1="137.6" y1="1095" x2="137.6" y2="1143.6"/><line x1="175.5" y1="1119.2" x2="208.5" y2="1119.2"/></g>
<text x="162.6" y="1155.7" font-size="12.7" fill="#000" text-anchor="middle" >THIRD ANGLE</text>
<text x="162.9" y="1170.1" font-size="12.7" fill="#000" text-anchor="middle" >PROJECTION</text>
<text x="162.4" y="1191.3" font-size="12.5" fill="#000" text-anchor="middle" >mm [INCH]</text>
</svg>
</body></html>
